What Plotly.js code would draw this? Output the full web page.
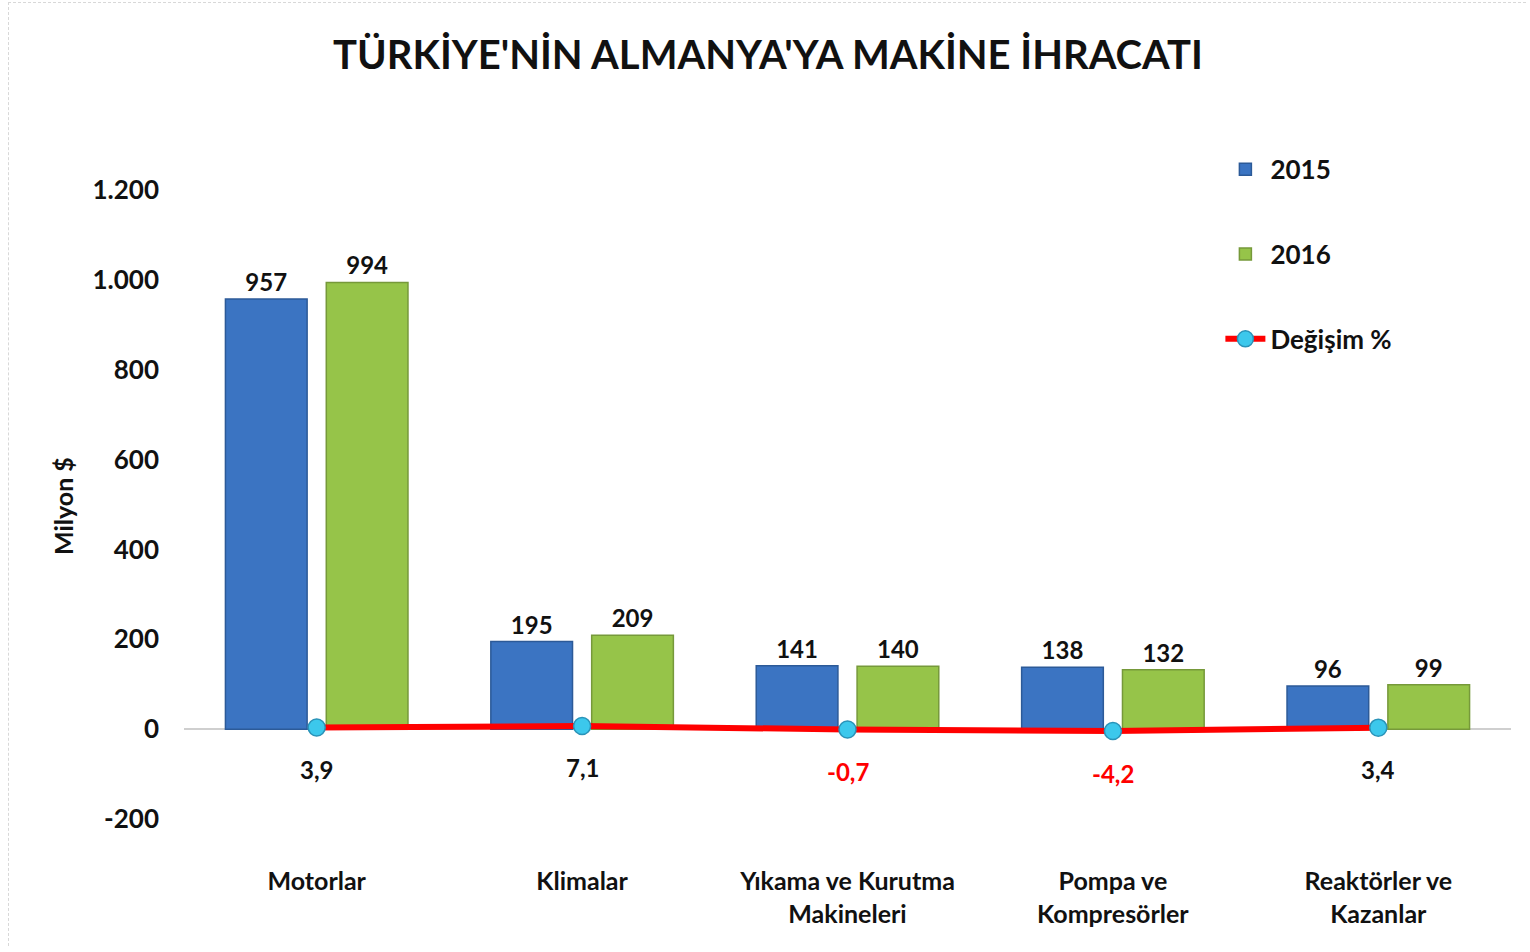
<!DOCTYPE html>
<html>
<head>
<meta charset="utf-8">
<script src="https://cdn.plot.ly/plotly-3.0.1.min.js"></script>
<style>
html,body{margin:0;padding:0;background:#fff;}
#chart{position:absolute;left:8px;top:2px;width:1518px;height:944px;border:1px dashed #d8d8d8;box-sizing:border-box;}
</style>
</head>
<body>
<div id="chart"></div>
<script>
const categories = ["Motorlar", "Klimalar", "Yıkama ve Kurutma<br>Makineleri", "Pompa ve<br>Kompresörler", "Reaktörler ve<br>Kazanlar"];
const values2015 = [957, 195, 141, 138, 96];
const values2016 = [994, 209, 140, 132, 99];
const changePct = [3.9, 7.1, -0.7, -4.2, 3.4];
const yTickVals = [-200, 0, 200, 400, 600, 800, 1000, 1200];
const yTickLabels = ["-200", "0", "200", "400", "600", "800", "1.000", "1.200"];

const FONT = "Lato, 'Open Sans', sans-serif";

const fmt = v => String(v).replace('.', ',');

const traces = [
  {
    type: 'bar', name: '2015', x: categories, y: values2015,
    legendgroup: 'a',
    marker: {color: '#3b74c2', line: {color: '#2c5a98', width: 1.5}},
    text: values2015.map(v => '<b>' + v + '</b>'), textposition: 'outside',
    textfont: {family: FONT, size: 24, color: '#111'}, cliponaxis: false
  },
  {
    type: 'bar', name: '2016', x: categories, y: values2016,
    legendgroup: 'b',
    marker: {color: '#96c449', line: {color: '#76993a', width: 1.5}},
    text: values2016.map(v => '<b>' + v + '</b>'), textposition: 'outside',
    textfont: {family: FONT, size: 24, color: '#111'}, cliponaxis: false
  },
  {
    type: 'scatter', mode: 'lines+markers', name: 'Değişim %', x: categories, y: changePct,
    legendgroup: 'c',
    line: {color: '#ff0000', width: 6},
    marker: {color: '#3cc8ec', size: 17, line: {color: '#2a93b8', width: 1.5}},
    cliponaxis: false
  }
];

const annotations = categories.map((c, i) => ({
  x: c, y: changePct[i], xref: 'x', yref: 'y',
  text: '<b>' + fmt(changePct[i]) + '</b>', showarrow: false, yshift: -42,
  font: {family: FONT, size: 24, color: changePct[i] < 0 ? '#ff0000' : '#111'}
}));
annotations.push({
  xref: 'paper', yref: 'paper', x: -0.0912, y: 0.4686, xanchor: 'center', yanchor: 'middle',
  text: '<b>Milyon $</b>', textangle: -90, showarrow: false,
  font: {family: FONT, size: 25, color: '#111'}
});

const layout = {
  width: 1518, height: 944,
  paper_bgcolor: '#fff', plot_bgcolor: '#fff',
  separators: ',.',
  margin: {l: 175, r: 16, t: 97, b: 83},
  font: {family: FONT, size: 22, color: '#111'},
  title: {
    text: "<b>TÜRKİYE'NİN ALMANYA'YA MAKİNE İHRACATI</b>",
    font: {family: FONT, size: 40, color: '#111'},
    x: 0.5, xanchor: 'center', y: 0.945, yanchor: 'middle'
  },
  barmode: 'group', bargap: 0.24, bargroupgap: 0.19,
  xaxis: {
    showgrid: false, showline: false, ticks: '',
    tickfont: {family: FONT, size: 25, color: '#111', weight: 'bold'},
    ticklabelstandoff: 0
  },
  yaxis: {
    range: [-300, 1400], tickvals: yTickVals, ticktext: yTickLabels,
    showgrid: false, showline: false, ticks: '',
    zeroline: true, zerolinecolor: '#cfcfcf', zerolinewidth: 2,
    tickfont: {family: FONT, size: 26, color: '#111', weight: 'bold'},
    ticklabelstandoff: 24
  },
  legend: {
    x: 0.781, y: 0.94, xanchor: 'left', yanchor: 'top',
    traceorder: 'grouped', tracegroupgap: 48,
    font: {family: FONT, size: 26, color: '#111', weight: 'bold'},
    bgcolor: 'rgba(0,0,0,0)', itemwidth: 40
  },
  annotations: annotations,
  showlegend: true
};

Plotly.newPlot('chart', traces, layout, {displayModeBar: false, staticPlot: true});
</script>
</body>
</html>
